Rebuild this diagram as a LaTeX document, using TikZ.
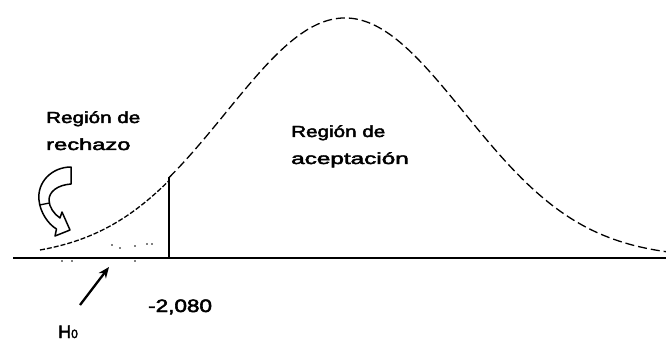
\documentclass[tikz,border=0pt]{standalone}
\usepackage{graphicx}
\usepackage{fontspec}
\setmainfont{Liberation Sans}
\newfontfamily\lblfont[FakeBold=2.5]{Liberation Sans}
\usetikzlibrary{arrows.meta}
\newcommand\sx[2]{\scalebox{#1}[1]{#2}}
\tikzset{
  lbl/.style={font=\lblfont\fontsize{16}{27}\selectfont, inner sep=0pt, align=left},
  numlbl/.style={font=\lblfont\fontsize{18}{20}\selectfont, inner sep=0pt},
  curve/.style={line width=1.3pt, dash pattern=on 9pt off 4pt},
  tailcurve/.style={line width=1.3pt, dash pattern=on 5pt off 2pt},
  axisline/.style={line width=2.8pt},
  critline/.style={line width=2.6pt},
  pointer/.style={line width=2.3pt, -{Stealth[length=11pt,width=9pt]}},
  bigarrow/.style={line width=1.5pt, fill=white, line join=round},
  speck/.style={fill=black, draw=none}
}
\begin{document}
\begin{tikzpicture}[x=1pt,y=-1pt]
\useasboundingbox (0,0) rectangle (666,341);
% axis
\coordinate (axL) at (13,258);
\coordinate (axR) at (666,258);
\draw[axisline] (axL) -- (axR);
% critical line
\coordinate (critB) at (169,258);
\coordinate (critT) at (169,177);
\draw[critline] (critB) -- (critT);
% normal curve
\draw[tailcurve] plot[domain=40:169, samples=60] (\x, {258-240*exp(-((\x-345)/117)^2/2)});
\draw[curve] plot[domain=169:666, samples=160] (\x, {258-240*exp(-((\x-345)/119)^2/2)});
% specks
\foreach \p in {(112,245),(120,248),(135,246),(147,244),(152,244),(62,261),(72,261),(135,261)}
  \fill[speck] \p circle (0.9);
% labels
\node[lbl, anchor=north west] (rej) at (46,111) {\sx{1.29}{Región de}\\\sx{1.48}{rechazo}};
\node[lbl, anchor=north west] (acc) at (291,125) {\sx{1.29}{Región de}\\\sx{1.52}{aceptación}};
\node[numlbl, anchor=base west] (crit) at (148,312) {\sx{1.25}{-2,080}};
\node[numlbl, anchor=base west] (h0) at (58,338) {H{\fontsize{12}{12}\selectfont 0}};
% pointer arrow to axis
\coordinate (ptail) at (80,305);
\coordinate (ptip) at (109,267);
\draw[pointer] (ptail) -- (ptip);
% curved hollow arrow
\draw[bigarrow] (71,167) .. controls (52,167) and (37,182) .. (39,200)
  .. controls (40,212) and (48,224) .. (56.5,229)
  -- (55,236) -- (70,230) -- (62,212) -- (60,218)
  .. controls (54,214) and (49,207) .. (49,200)
  .. controls (49,192) and (57,185) .. (71,184) -- cycle;
\draw[line width=1.3pt] (39.5,205) -- (49.5,203);
\end{tikzpicture}
\end{document}
